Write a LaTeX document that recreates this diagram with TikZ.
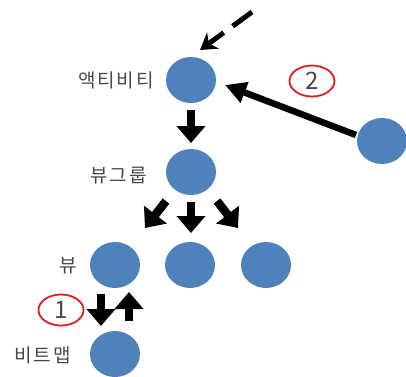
\documentclass[tikz,border=0pt]{standalone}
\usepackage{fontspec}
\newfontfamily\kr[LetterSpace=10]{Noto Sans CJK KR}
\newfontfamily\krd{Noto Sans CJK KR}
\usetikzlibrary{arrows.meta,shapes.geometric}
\definecolor{cblue}{HTML}{4F81BD}
\definecolor{ctext}{HTML}{484848}
\definecolor{cred}{HTML}{E02020}
\tikzset{
  blob/.style={ellipse,fill=cblue,draw=none,minimum width=50pt,minimum height=46pt,inner sep=0pt},
  lbl/.style={anchor=east,text=ctext,font=\kr\fontsize{19pt}{21pt}\selectfont,inner sep=0pt},
  redmark/.style={ellipse,draw=cred,line width=1.8pt,fill=white,minimum width=45pt,minimum height=31pt,inner sep=0pt,text=ctext,font=\krd\fontsize{24pt}{26pt}\selectfont},
  blockarrow/.style={line width=8.5pt,-{Triangle[length=17pt,width=28pt]}},
  thinarrow/.style={line width=6.5pt,-{Triangle[length=21pt,width=21pt]}},
  dasharrow/.style={line width=5pt,dash pattern=on 24pt off 11pt,-{Stealth[length=16pt,width=20pt,inset=5pt]}}
}
\begin{document}
\begin{tikzpicture}[x=1pt,y=-1pt]
\useasboundingbox (0,0) rectangle (406,376);
% circles
\node[blob] (act) at (191,80) {};
\node[blob] (vg) at (191,172) {};
\node[blob] (v1) at (115,265) {};
\node[blob] (v2) at (190,265) {};
\node[blob] (v3) at (266,265) {};
\node[blob] (bm) at (115,354) {};
\node[blob] (rc) at (382,141) {};
% labels
\node[lbl] (tact) at (154,80) {액티비티};
\node[lbl] (tvg) at (147,176) {뷰그룹};
\node[lbl] (tv) at (77,266) {뷰};
\node[lbl] (tbm) at (71,355) {비트맵};
% markers
\node[redmark] (m1) at (61,310) {1};
\node[redmark] (m2) at (312,81) {2};
% coordinates
\coordinate (a1s) at (191,110);
\coordinate (a1e) at (191,143);
\coordinate (l1s) at (166,201);
\coordinate (l1e) at (145,228);
\coordinate (m1s) at (191,202);
\coordinate (m1e) at (191,233);
\coordinate (r1s) at (217,201);
\coordinate (r1e) at (238,228);
\coordinate (ds) at (101,294);
\coordinate (de) at (101,326);
\coordinate (us) at (129,321);
\coordinate (ue) at (129,292);
\coordinate (rs) at (356,135);
\coordinate (re) at (225,85);
\coordinate (tops) at (252,12);
\coordinate (tope) at (200,50);
% arrows
\draw[blockarrow] (a1s) -- (a1e);
\draw[blockarrow] (l1s) -- (l1e);
\draw[blockarrow] (m1s) -- (m1e);
\draw[blockarrow] (r1s) -- (r1e);
\draw[blockarrow] (ds) -- (de);
\draw[blockarrow] (us) -- (ue);
\draw[thinarrow] (rs) -- (re);
\draw[dasharrow] (tops) -- (tope);
\end{tikzpicture}
\end{document}
